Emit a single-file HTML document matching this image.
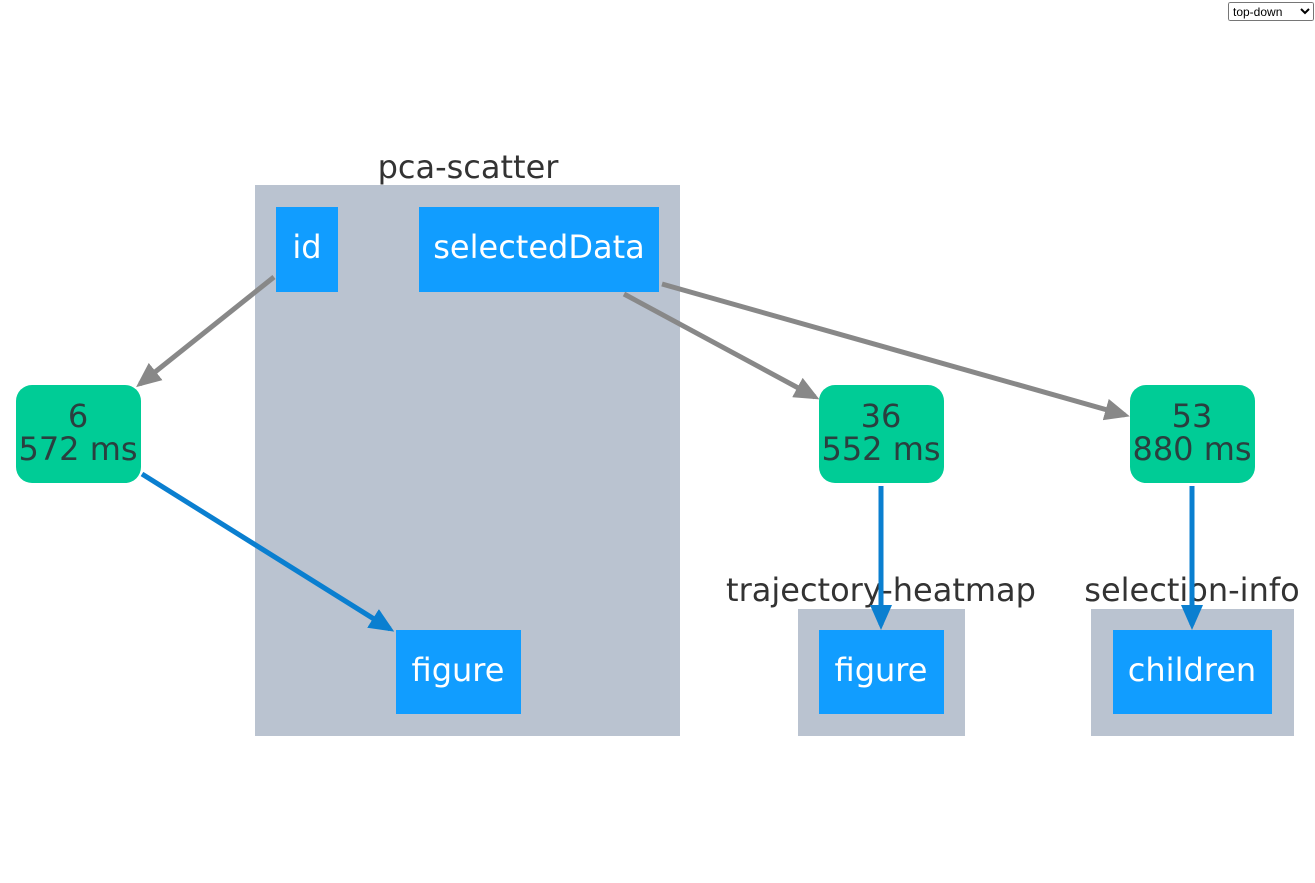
<!DOCTYPE html>
<html><head><style>
html,body{margin:0;padding:0;background:#fff;width:1315px;height:883px;overflow:hidden;position:relative}
select{position:absolute;left:1228px;top:2px;width:86px;height:19px;font:12px "Liberation Sans",sans-serif}
svg{position:absolute;left:0;top:0}
text{font-family:"DejaVu Sans",Verdana,sans-serif;font-size:32px;text-anchor:middle}
</style></head><body>
<svg width="1315" height="883">
<defs>
<marker id="ag" markerWidth="5" markerHeight="4.4" refX="4" refY="2.2" orient="auto" markerUnits="strokeWidth"><path d="M0,0L5,2.2L0,4.4z" fill="#888"/></marker>
<marker id="ab" markerWidth="5" markerHeight="4.4" refX="4" refY="2.2" orient="auto" markerUnits="strokeWidth"><path d="M0,0L5,2.2L0,4.4z" fill="#0a7fd0"/></marker>
</defs>
<rect x="255" y="185" width="425" height="551" fill="#bac3d0"/>
<rect x="798" y="609" width="167" height="127" fill="#bac3d0"/>
<rect x="1091" y="609" width="203" height="127" fill="#bac3d0"/>
<text x="468" y="178" fill="#333">pca-scatter</text>
<text x="881" y="601" fill="#333">trajectory-heatmap</text>
<text x="1192" y="601" fill="#333">selection-info</text>
<rect x="276" y="207" width="62" height="85" fill="#119dff"/>
<text x="307" y="258" fill="#fff">id</text>
<rect x="419" y="207" width="240" height="85" fill="#119dff"/>
<text x="539" y="258" fill="#fff">selectedData</text>
<rect x="396" y="630" width="125" height="84" fill="#119dff"/>
<text x="458" y="681" fill="#fff">figure</text>
<rect x="819" y="630" width="125" height="84" fill="#119dff"/>
<text x="881" y="681" fill="#fff">figure</text>
<rect x="1113" y="630" width="159" height="84" fill="#119dff"/>
<text x="1192" y="681" fill="#fff">children</text>
<rect x="16" y="385" width="125" height="98" rx="16" fill="#00cc96"/>
<text x="78" y="427" fill="#2a3f3f">6</text><text x="78" y="460" fill="#2a3f3f">572 ms</text>
<rect x="819" y="385" width="125" height="98" rx="16" fill="#00cc96"/>
<text x="881" y="427" fill="#2a3f3f">36</text><text x="881" y="460" fill="#2a3f3f">552 ms</text>
<rect x="1130" y="385" width="125" height="98" rx="16" fill="#00cc96"/>
<text x="1192" y="427" fill="#2a3f3f">53</text><text x="1192" y="460" fill="#2a3f3f">880 ms</text>
<g stroke-width="5" fill="none">
<line x1="274" y1="277" x2="140" y2="384" stroke="#888" marker-end="url(#ag)"/>
<line x1="624" y1="294" x2="815" y2="397" stroke="#888" marker-end="url(#ag)"/>
<line x1="662" y1="284" x2="1125" y2="415" stroke="#888" marker-end="url(#ag)"/>
<line x1="142" y1="474" x2="390" y2="629" stroke="#0a7fd0" marker-end="url(#ab)"/>
<line x1="881" y1="486" x2="881" y2="625" stroke="#0a7fd0" marker-end="url(#ab)"/>
<line x1="1192" y1="486" x2="1192" y2="625" stroke="#0a7fd0" marker-end="url(#ab)"/>
</g>
</svg>
<select><option>top-down</option></select>
</body></html>
